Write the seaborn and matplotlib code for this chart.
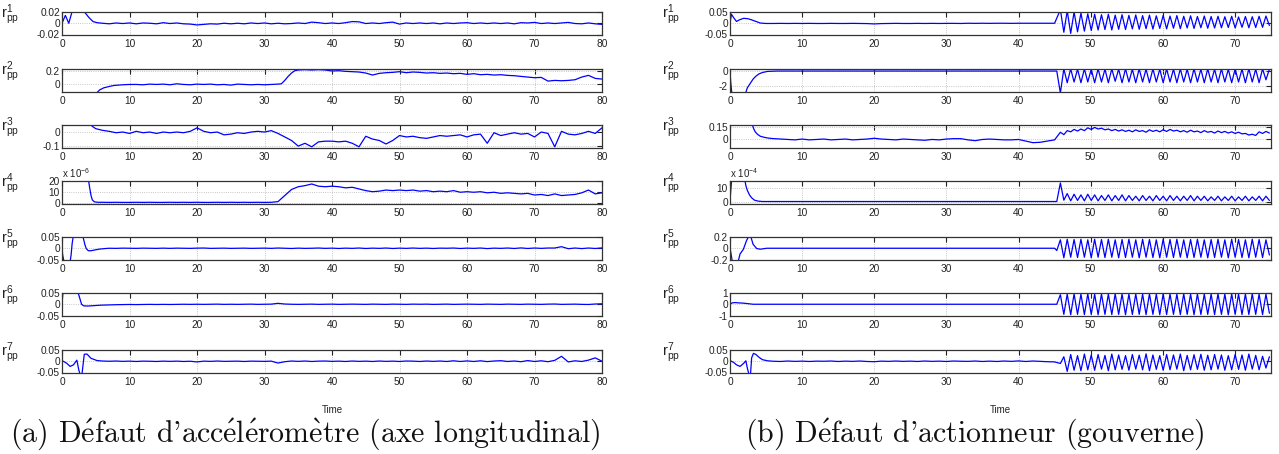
"""Residual plots r_pp^1..r_pp^7 for two fault scenarios (accelerometer / actuator)."""

import numpy as np
import seaborn as sns
import matplotlib.pyplot as plt

# ---------------------------------------------------------------- data ----
# Left panel: accelerometer fault, t = 0..80.  Values in the unit given by
# L_AXES (so L1 is in 1e-3, L2 in 1e-2, ...).  *_TAIL_V is sampled at
# consecutive integer times starting at *_TAIL_T0.
L1_HEAD_T = [0, 0.5, 1.0, 1.5, 2.0, 2.8, 3.4, 4.0, 4.6, 5.2]
L1_HEAD_V = [0, 14, 0, 21, 23, 22, 19, 10, 3, 1]
L1_TAIL_T0 = 6
L1_TAIL_V = [0, -1, 0.5, -0.5, 0.5, -1, 0.5, 0, -1, 1,
             -0.5, 0.5, -1, -1.5, -3, -2, -1, -1.5, 0, -1,
             0, -1, 0.5, -0.5, 0.5, -1, 0, -1, -0.5, 0.5,
             -0.5, 2, 1, -0.5, 0.5, -0.5, 1, 3, 2.5, -0.5,
             0.5, -0.5, 1, 2, -1.5, 0.5, -0.5, 0.5, -0.5, 0.5,
             -1, 0.5, -0.5, 0.5, 1, -0.5, 0.5, -0.5, 0.5, -0.5,
             0.5, -1, 1, 0.5, 1.5, -0.5, 0.5, -0.5, 0.5, 1.5,
             -0.5, -1, 0.5, -1, -2]

L2_HEAD_T = [5.0, 5.3, 5.6, 6.2, 7.0, 7.7, 9.0, 10.0]
L2_HEAD_V = [-14, -11, -8, -5, -3, -1.5, -0.5, 0]
L2_MID_T0 = 11
L2_MID_V = [0, -0.5, 0.5, 0, 0.5, -0.5, 1, 0, -0.5, 0.5,
            0, 0.5, -0.5, 0, -1, 0.5, 0, -0.5, 0, -0.5, 0]
L2_RISE_T = [32, 32.5, 33, 33.5, 34, 34.5, 35]
L2_RISE_V = [0.5, 1, 6, 12, 17, 20.5, 21.5]
L2_TAIL_T0 = 36
L2_TAIL_V = [22, 21.5, 22, 21.5, 20, 20.5, 19.5, 19, 18.5, 17,
             14, 16.5, 17.5, 18, 19, 17.5, 18.5, 18, 17, 17.5,
             16.5, 17, 16, 16.5, 15, 16, 14.5, 15, 14, 14.5,
             13.5, 13, 12, 11, 10, 10.5, 5, 6, 5.5, 6,
             7, 11, 13.5, 9, 8]

L3_HEAD_T = [4.1, 4.5, 5.0, 5.5, 6.0]
L3_HEAD_V = [6, 4, 2.4, 1.8, 1.2]
L3_TAIL_T0 = 7
L3_TAIL_V = [0.5, -0.5, 0, -1, 0.5, -0.5, 0, -1, 0, -0.5,
             0, -0.5, 0.5, 3, 0.5, -0.5, 0, -2, -1.5, -0.5,
             -1, 0, 0.5, 0, 1,
             -1, -3.5, -6, -10, -8, -10.5, -7, -6.5, -6.5,
             -7, -6.5, -8, -10.5, -3, -5, -6, -8.5, -6, -2.5,
             -3.5, -3, -4, -4.5, -3.5, -2.5, -3, -2.5, -2, -3.5,
             -2, -1.5, -8, -0.5, -2.5, -1.5, -0.5, -1.5, -1, -3.5,
             0, -1, -10.5, 0.5, -1.5, -2, -1, 0.5, -1, 3]

L4_HEAD_T = [3.9, 4.1, 4.3, 4.5, 4.8, 5.3]
L4_HEAD_V = [22, 14, 7, 3, 1.3, 0.9]
L4_TAIL_T0 = 6
L4_TAIL_V = [0.9, 0.8, 0.9, 0.8, 0.8, 0.9, 0.8, 0.9, 0.8, 0.8,
             0.9, 0.8, 0.9, 0.8, 0.9, 0.8, 0.8, 0.9, 0.8, 0.9,
             0.8, 0.9, 0.8, 0.9, 0.8, 0.9,
             1.5, 7, 12.5, 15, 16, 17.5, 15.5, 15, 15.5,
             15, 14, 14.5, 13, 11.5, 10.5, 11, 12, 11.5, 12,
             11.5, 12, 11, 11.5, 10.5, 11, 10.5, 11.5, 10, 10.5,
             10, 10.5, 9.5, 10, 9, 9.5, 9, 8.5, 9, 7.5,
             8, 7, 8.5, 7, 7.5, 8, 9.5, 12, 8.5, 9.5]

L5_HEAD_T = [0, 0.1, 0.3, 1.2, 1.35, 1.5, 1.7, 3.0, 3.2, 3.4, 3.6, 3.9, 4.3,
             4.8, 5.5, 6.5]
L5_HEAD_V = [0, -30, -60, -60, -30, 20, 60, 60, 40, 15, -2, -11, -11, -8,
             -4, -1]
L5_TAIL_T0 = 7
L5_TAIL_V = [0, -0.5, 0.5, 0, -0.5, 0.5, 0, -0.5, 0.5, -0.5,
             0.5, 0, -0.5, 0.5, 1, -0.5, 0, 0.5, -0.5, 0,
             0.5, -0.5, 0, 0.5, -0.5, 1, 0, -1, 0.5, -0.5,
             0, 1, -0.5, 0.5, -1, 0.5, -0.5, 1, -1, 0.5,
             -0.5, 1, -1, 0.5, -0.5, 1, -0.5, 0.5, -1, 0.5,
             0, 1, -1, 0.5, -0.5, 1, -1.5, 0.5, -0.5, 1,
             -1, 1.5, -1, 1, -0.5, 1, 1, 7, -2, 1,
             -1.5, 1, -1, 1.5]

L6_HEAD_T = [0, 0.15, 2.3, 2.6, 2.9, 3.2, 3.8, 4.8, 5.8, 7, 8]
L6_HEAD_V = [0, 60, 60, 30, 0, -7, -8, -6, -4, -3, -2]
L6_TAIL_T0 = 9
L6_TAIL_V = [-1.5, -1, -1.5, -1, -0.5, -1, -0.5, -1, -0.5, 0,
             -0.5, 0, -0.5, 0, 0.5, -0.5, 0, -0.5, 0, 0.5,
             -0.5, 0, 0.5, 4, 1, 0, -0.5, 0, 0.5, -0.5,
             0, 0.5, -0.5, 0, 0.5, 0, -0.5, 0.5, 0, -0.5,
             0.5, 0, -0.5, 0.5, 0, 0.5, -0.5, 0, 0.5, -0.5,
             0, 0.5, 0, -0.5, 0.5, 0, -0.5, 0.5, 0, -0.5,
             0.5, 0, -0.5, 0.5, 1, -0.5, 0, 0.5, -0.5, -1,
             1, 2]

L7_HEAD_T = [0, 0.7, 1.2, 1.7, 2.2, 2.5, 2.7, 2.95, 3.3, 3.7, 4.3, 5.2, 6]
L7_HEAD_V = [3, -9, -23, -16, 5, -40, -60, -60, 31, 32, 13, 3, 1]
L7_TAIL_T0 = 7
L7_TAIL_V = [0, 1, -0.5, 0.5, -1, 0.5, 0, -1, 0.5, -0.5,
             0.5, -1, 0, -3, 0.5, -0.5, 1, -0.5, 0, 0.5,
             -1, 0.5, 0, -0.5, 0.5, -8, -2, 1, -0.5, 1,
             -1, 0.5, 1, -0.5, 0.5, -1, 1, -0.5, 0.5, -1,
             1, -0.5, 0.5, -1, 1, 0.5, -1, 1, -0.5, 1,
             -1, 2, -1, 1.5, -1, 2, -1.5, 1, 2.5, -1,
             1, -2, 3, -1, 2, -2, 4, 22, -3, 2,
             -1, 5, 15, 0]

# Right panel: actuator fault, t = 0..75.  After the fault the residuals
# oscillate; the extrema are read at the times in T_OSC, alternating
# between the *_HI and *_LO lists (which one comes first is in *_FIRST).
T_OSC = [45.80, 46.28, 46.75, 47.23, 47.70, 48.18, 48.65, 49.13, 49.60, 50.08,
         50.55, 51.03, 51.50, 51.98, 52.45, 52.93, 53.40, 53.88, 54.35, 54.83,
         55.30, 55.78, 56.25, 56.73, 57.20, 57.68, 58.15, 58.63, 59.10, 59.58,
         60.05, 60.53, 61.00, 61.48, 61.95, 62.43, 62.90, 63.38, 63.85, 64.33,
         64.80, 65.28, 65.75, 66.23, 66.70, 67.18, 67.65, 68.13, 68.60, 69.08,
         69.55, 70.03, 70.50, 70.98, 71.45, 71.93, 72.40, 72.88, 73.35, 73.83,
         74.30, 74.78]

R1_HEAD_T = [0, 0.2, 0.5, 0.9, 1.3, 1.9, 2.5, 3.0, 3.6, 4.2, 5.0]
R1_HEAD_V = [0, 40, 25, 8, 15, 22, 20, 15, 8, 1, -1]
R1_TAIL_T0 = 6
R1_TAIL_V = [-1, -0.5, -1, -0.5, -1, -0.5, -1, -1, -0.5, -1,
             -1, -0.5, -1, -1.5, -3, -1.5, -1, -0.5, -1, -1,
             -0.5, -1, -0.5, -1, -0.5, -0.5, -1, 0, -0.5, 0,
             -0.5, 0, 0, -0.5, 0, 0, 0, 0, 0, 0]
R1_FIRST = 'hi'
R1_HI = [60, 55, 50, 45, 42, 40, 38, 40, 36, 38, 35, 37, 34, 36, 33, 35,
         32, 34, 31, 33, 30, 32, 30, 31, 29, 31, 28, 30, 29, 31, 32]
R1_LO = [-40, -45, -38, -35, -32, -30, -28, -30, -27, -28, -25, -27, -24,
         -26, -23, -25, -22, -24, -21, -23, -20, -22, -21, -20, -19, -21,
         -18, -20, -19, -18, -10]

R2_HEAD_T = [0, 0.1, 0.3, 2.0, 2.4, 2.8, 3.2, 3.6, 4.0, 4.5, 5.2, 6.5, 45.3]
R2_HEAD_V = [0, -15, -35, -35, -23, -17, -11, -7, -4, -2, -0.5, 0, 0]
R2_FIRST = 'lo'
R2_LO = [-30, -16, -15, -16, -15, -16, -15, -16, -14, -16, -15, -16, -15,
         -16, -15, -16, -15, -16, -15, -16, -15, -16, -15, -16, -15, -16,
         -15, -16, -15, -16, -12]
R2_HI = [3, 3, 2.5, 3, 2.5, 3, 2.5, 3, 2.5, 3, 2.5, 3, 2.5, 3, 2.5, 3,
         2.5, 3, 2.5, 3, 2.5, 3, 2.5, 3, 2.5, 3, 2.5, 3, 2.5, 3, 2.5]

R3_HEAD_T = [3.1, 3.3, 3.5, 3.8, 4.2, 4.6, 5.1, 5.8, 6.5, 7.5]
R3_HEAD_V = [18, 13, 9.5, 6.5, 4, 3, 2, 1.2, 0.8, 0.3]
R3_TAIL_T0 = 8
R3_TAIL_V = [0, -0.5, 0.5, -0.5, 0, 0.5, -0.5, 0, 0.5, -0.5,
             0, 0.5, 1.5, 0.5, 0, -0.5, 0.5, 0, -0.5, -1,
             0, -0.5, 0.5, 1, 1, -0.5, -1.5, 0, 0.5, 0,
             -0.5, -0.5, 0, -2, -4, -3.5, -2, -0.5]
R3_FIRST = 'hi'
R3_HI = [9, 11, 12.5, 13, 14.5, 15, 14, 13, 12.5, 12, 11.5, 12, 11, 12,
         11.5, 12, 12.5, 11.5, 11, 11.5, 10.5, 11, 10, 10.5, 10, 9.5, 9,
         7.5, 6.5, 9.5, 10]
R3_LO = [6, 9.5, 10.5, 11, 12.5, 13, 12, 11, 10.5, 10, 9.5, 10, 9, 10,
         9.5, 10, 10.5, 9.5, 9, 9.5, 8.5, 9, 8, 8.5, 8, 7.5, 7, 5.5, 5,
         7.5, 8]

R4_HEAD_T = [0, 0.1, 0.25, 2.0, 2.2, 2.4, 2.7, 3.0, 3.4, 3.9, 4.5, 45.3]
R4_HEAD_V = [0, 8, 18, 18, 12, 8.5, 5, 2.8, 1.0, 0.3, 0, 0]
R4_FIRST = 'hi'
R4_HI = [14, 6, 5.5, 5, 5.5, 5, 4.5, 5, 4.5, 5, 4.5, 4, 4.5, 4, 4.5, 4,
         4.5, 4, 4, 4.5, 4, 4, 3.5, 4, 3.5, 4, 3.5, 4, 3.5, 4, 4]
R4_LO = [1, 0.5, 0.8, 0.5, 0.8, 0.5, 0.8, 0.5, 0.8, 0.5, 0.8, 0.5, 0.8,
         0.5, 0.8, 0.5, 0.8, 0.5, 0.8, 0.5, 0.8, 0.5, 0.8, 0.5, 0.8, 0.5,
         0.8, 0.5, 0.8, 0.5, 0.8]

R5_HEAD_T = [0, 0.3, 0.5, 1.1, 1.4, 1.85, 2.3, 2.6, 2.9, 3.2, 3.7, 4.2, 5.1,
             45.0, 45.3]
R5_HEAD_V = [1, -22, -26, -25, -10, -2, 14, 21, 20, 7, -0.5, -1.7, 0, 0, -4]
R5_FIRST = 'hi'
R5_HI = [15, 16, 15.5, 16, 15, 16, 15.5, 16, 15, 15.5, 16, 15, 16, 15.5,
         15, 16, 15.5, 16, 15, 15.5, 16, 15, 15.5, 16, 15, 16, 15.5, 15,
         16, 15.5, 15]
R5_LO = [-17, -16, -16.5, -16, -17, -16, -16.5, -16, -17, -16.5, -16, -17,
         -16, -16.5, -17, -16, -16.5, -16, -17, -16.5, -16, -17, -16.5,
         -16, -17, -16, -16.5, -17, -16, -16.5, -12]

R6_HEAD_T = [0, 0.3, 0.7, 1.2, 1.8, 2.4, 3.2, 45.3]
R6_HEAD_V = [0, 0.12, 0.15, 0.12, 0.1, 0.06, 0, 0]
R6_FIRST = 'hi'
R6_HI = [0.85, 0.9, 0.92, 0.9, 0.93, 0.9, 0.92, 0.9, 0.93, 0.91, 0.9,
         0.92, 0.9, 0.93, 0.9, 0.92, 0.91, 0.9, 0.93, 0.9, 0.92, 0.9,
         0.91, 0.93, 0.9, 0.92, 0.9, 0.91, 0.93, 0.9, 0.9]
R6_LO = [-0.9, -0.93, -0.9, -0.92, -0.91, -0.93, -0.9, -0.92, -0.9,
         -0.93, -0.91, -0.9, -0.92, -0.9, -0.93, -0.91, -0.9, -0.92, -0.9,
         -0.93, -0.91, -0.9, -0.92, -0.9, -0.93, -0.9, -0.92, -0.91, -0.9,
         -0.92, -0.8]

R7_HEAD_T = [0, 0.5, 0.9, 1.4, 1.9, 2.2, 2.4, 2.6, 2.85, 3.0, 3.25, 3.6,
             4.0, 4.5, 5.2]
R7_HEAD_V = [3, -5, -16, -23, -9, 2, -30, -55, -55, 15, 35, 30, 18, 7, 2]
R7_TAIL_T0 = 6
R7_TAIL_V = [0, -1, 1, -0.5, 0.5, -1, 0.5, 0, 1, -1,
             0.5, -0.5, 1, -1, -2, 0.5, -0.5, 1, -0.5, 0.5,
             -1, 1, -0.5, 0.5, -1, 1, 0, -0.5, 1, -1,
             0.5, -1, 1, -0.5, 1.5, -1, 1, -0.5, -2, -3]
R7_FIRST = 'lo'
R7_LO = [-10, -45, -40, -42, -38, -40, -35, -42, -38, -36, -40, -35, -38,
         -42, -36, -40, -38, -35, -42, -38, -36, -40, -38, -35, -40, -38,
         -36, -40, -35, -38, -30]
R7_HI = [20, 30, 25, 32, 28, 30, 26, 32, 28, 25, 30, 27, 33, 28, 25, 30,
         28, 32, 26, 29, 31, 27, 30, 28, 25, 30, 28, 32, 26, 22, 20]

# captions; the accented letters go through mathtext so they stay in CM
CAPTIONS = [
    r"(a) D$\acute{\mathrm{e}}$faut d'acc$\acute{\mathrm{e}}$l$\acute{\mathrm{e}}$"
    r"rom$\grave{\mathrm{e}}$tre (axe longitudinal)",
    r"(b) D$\acute{\mathrm{e}}$faut d'actionneur (gouverne)",
]

# ---------------------------------------------------------------- build ----
def tail_times(t0, values):
    return list(range(t0, t0 + len(values)))


def oscillation(first, hi, lo):
    a, b = (hi, lo) if first == 'hi' else (lo, hi)
    out = []
    for x, y in zip(a, b):
        out += [x, y]
    return out


left_series = [
    (L1_HEAD_T + tail_times(L1_TAIL_T0, L1_TAIL_V), L1_HEAD_V + L1_TAIL_V),
    (L2_HEAD_T + tail_times(L2_MID_T0, L2_MID_V) + L2_RISE_T
     + tail_times(L2_TAIL_T0, L2_TAIL_V),
     L2_HEAD_V + L2_MID_V + L2_RISE_V + L2_TAIL_V),
    (L3_HEAD_T + tail_times(L3_TAIL_T0, L3_TAIL_V), L3_HEAD_V + L3_TAIL_V),
    (L4_HEAD_T + tail_times(L4_TAIL_T0, L4_TAIL_V), L4_HEAD_V + L4_TAIL_V),
    (L5_HEAD_T + tail_times(L5_TAIL_T0, L5_TAIL_V), L5_HEAD_V + L5_TAIL_V),
    (L6_HEAD_T + tail_times(L6_TAIL_T0, L6_TAIL_V), L6_HEAD_V + L6_TAIL_V),
    (L7_HEAD_T + tail_times(L7_TAIL_T0, L7_TAIL_V), L7_HEAD_V + L7_TAIL_V),
]
right_series = [
    (R1_HEAD_T + tail_times(R1_TAIL_T0, R1_TAIL_V) + T_OSC,
     R1_HEAD_V + R1_TAIL_V + oscillation(R1_FIRST, R1_HI, R1_LO)),
    (R2_HEAD_T + T_OSC, R2_HEAD_V + oscillation(R2_FIRST, R2_HI, R2_LO)),
    (R3_HEAD_T + tail_times(R3_TAIL_T0, R3_TAIL_V) + T_OSC,
     R3_HEAD_V + R3_TAIL_V + oscillation(R3_FIRST, R3_HI, R3_LO)),
    (R4_HEAD_T + T_OSC, R4_HEAD_V + oscillation(R4_FIRST, R4_HI, R4_LO)),
    (R5_HEAD_T + T_OSC, R5_HEAD_V + oscillation(R5_FIRST, R5_HI, R5_LO)),
    (R6_HEAD_T + T_OSC, R6_HEAD_V + oscillation(R6_FIRST, R6_HI, R6_LO)),
    (R7_HEAD_T + tail_times(R7_TAIL_T0, R7_TAIL_V) + T_OSC,
     R7_HEAD_V + R7_TAIL_V + oscillation(R7_FIRST, R7_HI, R7_LO)),
]

# per-row: scale of the stored values, ylim, yticks, tick labels, offset text
L_AXES = [
    (1e-3, (-0.02, 0.02), [-0.02, 0, 0.02], ['-0.02', '0', '0.02'], None),
    (1e-2, (-0.105, 0.23), [0, 0.2], ['0', '0.2'], None),
    (1e-2, (-0.11, 0.05), [-0.1, 0], ['-0.1', '0'], None),
    (1, (-0.2, 20.2), [0, 10, 20], ['0', '10', '20'], '-6'),
    (1e-3, (-0.05, 0.05), [-0.05, 0, 0.05], ['-0.05', '0', '0.05'], None),
    (1e-3, (-0.05, 0.05), [-0.05, 0, 0.05], ['-0.05', '0', '0.05'], None),
    (1e-3, (-0.05, 0.05), [-0.05, 0, 0.05], ['-0.05', '0', '0.05'], None),
]
R_AXES = [
    (1e-3, (-0.05, 0.05), [-0.05, 0, 0.05], ['-0.05', '0', '0.05'], None),
    (1e-1, (-2.8, 0.28), [-2, 0], ['-2', '0'], None),
    (1e-2, (-0.1, 0.18), [0, 0.15], ['0', '0.15'], None),
    (1, (-1.5, 15.5), [0, 10], ['0', '10'], '-4'),
    (1e-2, (-0.2, 0.2), [-0.2, 0, 0.2], ['-0.2', '0', '0.2'], None),
    (1, (-1, 1), [-1, 0, 1], ['-1', '0', '1'], None),
    (1e-3, (-0.05, 0.05), [-0.05, 0, 0.05], ['-0.05', '0', '0.05'], None),
]

# ---------------------------------------------------------------- plot -----
sns.set_theme(style='white')
plt.rcParams['font.family'] = ['Liberation Sans', 'DejaVu Sans']
plt.rcParams['mathtext.fontset'] = 'custom'
plt.rcParams['mathtext.rm'] = 'Liberation Sans'
plt.rcParams['mathtext.it'] = 'Liberation Sans'

W, H = 1279, 454
fig = plt.figure(figsize=(W / 100, H / 100), dpi=100)
ROW_TOPS = [12, 69, 125, 181, 237, 293, 350]
ROW_H = 22.5
PANELS = [
    (62, 602, 80, list(range(0, 81, 10)), left_series, L_AXES, 1),
    (730, 1271, 75, list(range(0, 71, 10)), right_series, R_AXES, 662),
]
BLUE = '#0000ff'

for x0, x1, tmax, xticks, series, specs, lab_x in PANELS:
    for i, ((t, v), (scale, ylim, yt, ytl, offset)) in enumerate(zip(series, specs)):
        top = ROW_TOPS[i]
        ax = fig.add_axes([x0 / W, 1 - (top + ROW_H) / H, (x1 - x0) / W, ROW_H / H])
        sns.lineplot(x=np.array(t, float), y=np.array(v, float) * scale, ax=ax,
                     color=BLUE, linewidth=0.9, estimator=None)
        ax.set_xlim(0, tmax)
        ax.set_ylim(*ylim)
        ax.set_xticks(xticks)
        ax.set_xticklabels([str(x) for x in xticks])
        ax.set_yticks(yt)
        ax.set_yticklabels(ytl)
        ax.set_xlabel('')
        ax.set_ylabel('')
        ax.grid(True, linestyle=':', color='#b5b5b5', linewidth=0.6)
        ax.tick_params(direction='in', top=True, right=True, length=3.5,
                       width=0.8, labelsize=7.3, pad=1.5, colors='#222222')
        ax.tick_params(axis='x', pad=3)
        for sp in ax.spines.values():
            sp.set_color('#333333')
            sp.set_linewidth(0.9)
        if offset is not None:
            ax.text(0, 1.06, 'x 10$^{%s}$' % offset, transform=ax.transAxes,
                    fontsize=7, color='#222222', va='bottom', ha='left')
        fig.text(lab_x / W, 1 - (top + 3) / H, r'r$^{%d}_{\rm pp}$' % (i + 1),
                 fontsize=10.5, color='#222222', ha='left', va='center')
    fig.text((x0 + x1) / 2 / W, 1 - 410 / H, 'Time', fontsize=7,
             color='#222222', ha='center', va='center')

for cap, cx in zip(CAPTIONS, [305, 975]):
    fig.text(cx / W, 1 - 434 / H, cap, fontsize=21.5, ha='center',
             va='center', family='cmr10', math_fontfamily='cm',
             color='#111111')

fig.savefig('out.png', dpi=100)
